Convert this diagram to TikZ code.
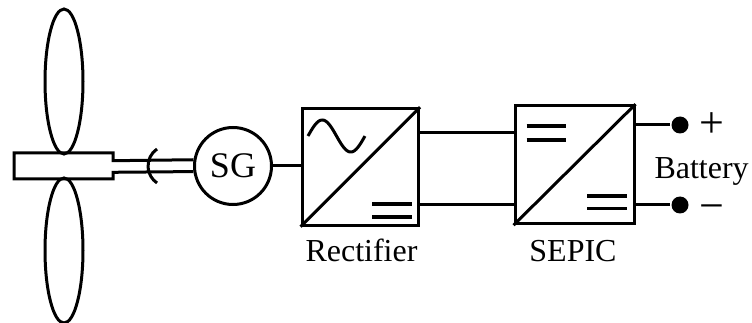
\documentclass[tikz,border=0pt]{standalone}
\usepackage{fontspec}
\setmainfont{Liberation Serif}
\usetikzlibrary{calc}
\begin{document}
\begin{tikzpicture}[x=1pt,y=-1pt, line width=3pt,
  conv/.style={draw, rectangle, inner sep=0pt},
  lbl/.style={font=\fontsize{32}{38}\selectfont, inner sep=0pt},
  sign/.style={font=\fontsize{44}{48}\selectfont, inner sep=0pt, anchor=base},
  term/.style={circle, fill, minimum size=17pt, inner sep=0pt},
  bar/.style={line width=3.6pt}]
\useasboundingbox (0,0) rectangle (752,323);

% rotor blades
\draw (64,81.5) ellipse [x radius=19, y radius=72.5];
\draw (64,250.5) ellipse [x radius=19, y radius=72.5];

% synchronous generator
\node[circle, draw, minimum size=77pt, inner sep=0pt,
      font=\fontsize{36}{40}\selectfont] (sg) at (233,166) {SG};

% hub and shaft
\draw[line join=miter] (sg.171.4) -- (113,160.7) -- (113,153) -- (14,153)
  -- (14,179) -- (113,179) -- (113,172.3) -- (sg.188.6);
% coupling
\draw (157,149) arc[start angle=235.6, end angle=124.4, radius=20.6];

% rectifier
\node[conv, minimum width=116.5pt, minimum height=116.5pt] (rect) at (360.3,167) {};
\draw (rect.south west) -- (rect.north east);
\draw plot[domain=0:1, samples=60, smooth] ({308+57*\x}, {136-16*sin(360*\x)});
\draw[bar] (372,204.3) -- (412,204.3);
\draw[bar] (372,217.3) -- (412,217.3);

% SEPIC converter
\node[conv, minimum width=119pt, minimum height=118pt] (sepic) at (574.5,164.7) {};
\draw (sepic.south west) -- (sepic.north east);
\draw[bar] (526.7,126) -- (566,126);
\draw[bar] (526.7,140) -- (566,140);
\draw[bar] (587,196) -- (626.7,196);
\draw[bar] (587,208.5) -- (626.7,208.5);

% connections
\draw (sg.east) -- (rect.west |- sg.east);
\draw (rect.east |- 0,132.3) -- (sepic.west |- 0,132.3);
\draw (rect.east |- 0,205) -- (sepic.west |- 0,205);

% battery terminals
\node[term] (pos) at (680,125) {};
\node[term] (neg) at (680,205) {};
\draw (sepic.east |- pos) -- (pos);
\draw (sepic.east |- neg) -- (neg);

% labels
\node[lbl, anchor=base] (rectlbl) at (361.5,261.5) {Rectifier};
\node[lbl, anchor=base] (sepiclbl) at (573,261.5) {SEPIC};
\node[lbl, anchor=base west] (batt) at (653,178.3) {Battery};
\node[sign] (plus) at (712,138) {+};
\node[sign] (minus) at (711.5,220) {−};
\end{tikzpicture}
\end{document}
